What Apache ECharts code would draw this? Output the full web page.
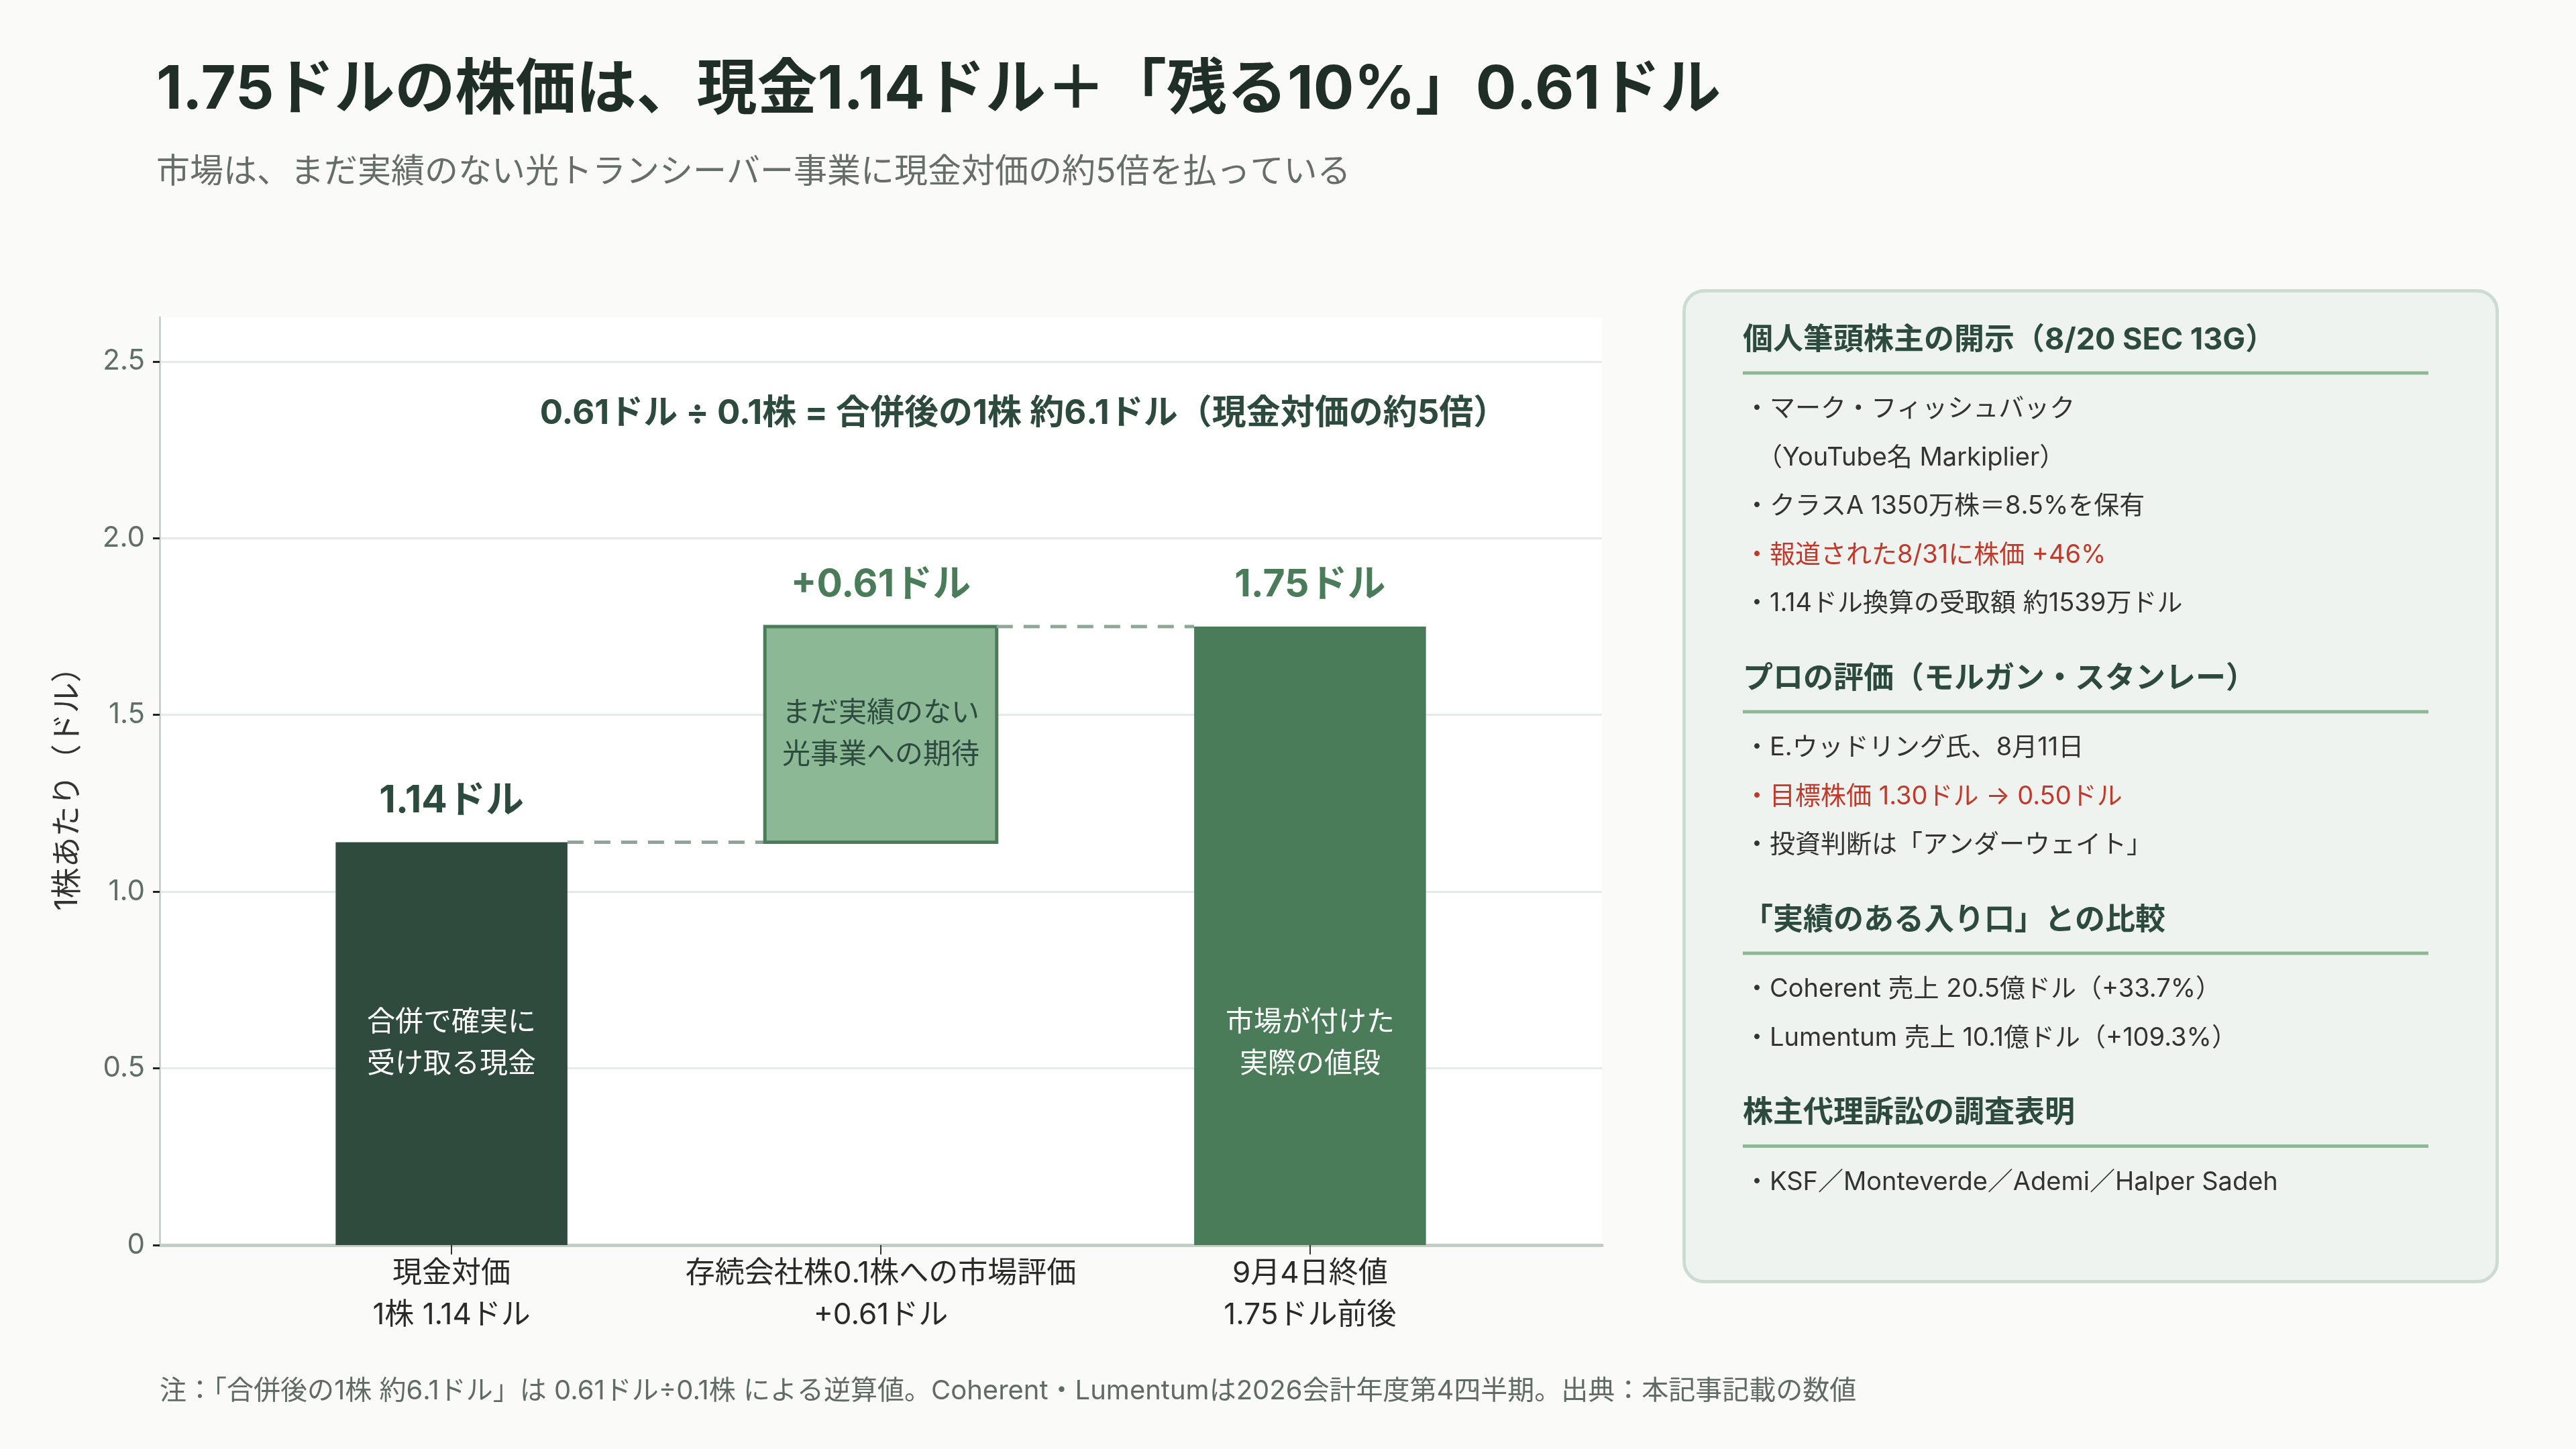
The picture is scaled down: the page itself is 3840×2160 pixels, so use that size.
<!DOCTYPE html>
<html>
<head>
<meta charset="utf-8">
<style>
  html, body { margin: 0; padding: 0; background: #fafaf9; }
  #chart { width: 3840px; height: 2160px; }
</style>
<script src="https://cdn.jsdelivr.net/npm/echarts@6/dist/echarts.min.js"></script>
</head>
<body>
<div id="chart"></div>
<script>
var FONT = 'Inter, "Noto Sans CJK JP", sans-serif';

// waterfall steps: cash -> premium -> close
var CATEGORIES = ['現金対価\n1株 1.14ドル', '存続会社株0.1株への市場評価\n+0.61ドル', '9月4日終値\n1.75ドル前後'];
var STEP_VALUES = [1.14, 0.61, 1.75];
var STEP_KINDS = ['total', 'delta', 'total'];
var TOP_LABELS = ['1.14ドル', '+0.61ドル', '1.75ドル'];
var INNER_LABELS = ['合併で確実に\n受け取る現金', 'まだ実績のない\n光事業への期待', '市場が付けた\n実際の値段'];
var Y_MAX = 2.625;

var TITLE = '1.75ドルの株価は、現金1.14ドル＋「残る10%」0.61ドル';
var SUBTITLE = '市場は、まだ実績のない光トランシーバー事業に現金対価の約5倍を払っている';
var NOTE_IN_PLOT = '0.61ドル ÷ 0.1株 = 合併後の1株 約6.1ドル（現金対価の約5倍）';
var FOOTNOTE = '注：「合併後の1株 約6.1ドル」は 0.61ドル÷0.1株 による逆算値。Coherent・Lumentumは2026会計年度第4四半期。出典：本記事記載の数値';

var PANEL_SECTIONS = [
  {head: '個人筆頭株主の開示（8/20 SEC 13G）', items: [
    ['・マーク・フィッシュバック', false],
    ['　（YouTube名 Markiplier）', false],
    ['・クラスA 1350万株＝8.5%を保有', false],
    ['・報道された8/31に株価 +46%', true],
    ['・1.14ドル換算の受取額 約1539万ドル', false]
  ]},
  {head: 'プロの評価（モルガン・スタンレー）', items: [
    ['・E.ウッドリング氏、8月11日', false],
    ['・目標株価 1.30ドル → 0.50ドル', true],
    ['・投資判断は「アンダーウェイト」', false]
  ]},
  {head: '「実績のある入り口」との比較', items: [
    ['・Coherent 売上 20.5億ドル（+33.7%）', false],
    ['・Lumentum 売上 10.1億ドル（+109.3%）', false]
  ]},
  {head: '株主代理訴訟の調査表明', items: [
    ['・KSF／Monteverde／Ademi／Halper Sadeh', false]
  ]}
];

var COLORS = {
  total0: '#2e4b3e',
  delta: '#8cb896',
  deltaBorder: '#4a7c59',
  total: '#4a7c59',
  dark: '#2d4a3e',
  connector: '#8fa697'
};

// build floating bar extents from the step values
var bars = [];
var running = 0;
STEP_VALUES.forEach(function (v, i) {
  var lo, hi;
  if (STEP_KINDS[i] === 'total') {
    lo = 0; hi = v;
  } else {
    lo = running; hi = running + v;
  }
  running = hi;
  bars.push([i, lo, hi]);
});

var BAR_W = 0.54; // in category units

function renderBar(params, api) {
  var i = api.value(0), lo = api.value(1), hi = api.value(2);
  var pLo = api.coord([i, lo]);
  var pHi = api.coord([i, hi]);
  var w = api.size([BAR_W, 0])[0];
  var isDelta = STEP_KINDS[i] === 'delta';
  var fill = isDelta ? COLORS.delta : (i === 0 ? COLORS.total0 : COLORS.total);
  var children = [{
    type: 'rect',
    shape: {x: pHi[0] - w / 2, y: pHi[1], width: w, height: pLo[1] - pHi[1]},
    style: {fill: fill, stroke: isDelta ? COLORS.deltaBorder : null, lineWidth: isDelta ? 5 : 0}
  }];
  // value label above bar
  children.push({
    type: 'text',
    x: pHi[0], y: pHi[1] - 62,
    style: {
      text: TOP_LABELS[i], align: 'center', verticalAlign: 'middle',
      fontSize: 57, fontWeight: 'bold', fontFamily: FONT,
      fill: i === 0 ? COLORS.dark : COLORS.total
    }
  });
  // text inside the bar
  var mid = lo === 0 ? STEP_VALUES[0] / 2 : (lo + hi) / 2;
  var pMid = api.coord([i, mid]);
  children.push({
    type: 'text',
    x: pMid[0], y: pMid[1],
    style: {
      text: INNER_LABELS[i], align: 'center', verticalAlign: 'middle',
      fontSize: 42, lineHeight: 62, fontFamily: FONT,
      fill: isDelta ? COLORS.dark : '#ffffff'
    }
  });
  // dashed connector to the next bar
  if (i < bars.length - 1) {
    var pNext = api.coord([i + 1, hi]);
    children.push({
      type: 'line',
      shape: {x1: pHi[0] + w / 2, y1: pHi[1], x2: pNext[0] - w / 2, y2: pNext[1]},
      style: {stroke: COLORS.connector, lineWidth: 5, lineDash: [24, 16]}
    });
  }
  return {type: 'group', children: children};
}

// right-hand info panel
var graphics = [];
var PX = 2508, PY = 431, PW = 1212, PH = 1477;
graphics.push({
  type: 'rect', left: PX, top: PY, z: 1,
  shape: {width: PW, height: PH, r: 30},
  style: {fill: '#eef3ef', stroke: '#cddcd0', lineWidth: 5}
});
var y = 507;
PANEL_SECTIONS.forEach(function (sec, si) {
  if (si > 0) y += 112;
  graphics.push({
    type: 'text', x: 2598, y: y, z: 2,
    style: {text: sec.head, fontSize: 45, fontWeight: 'bold', fontFamily: FONT,
      fill: COLORS.dark, verticalAlign: 'middle', align: 'left'}
  });
  graphics.push({
    type: 'line', z: 2,
    shape: {x1: 2598, y1: y + 49, x2: 3620, y2: y + 49},
    style: {stroke: '#8cb896', lineWidth: 5}
  });
  y += 49 + 54;
  sec.items.forEach(function (it, k) {
    if (k > 0) y += 72.5;
    graphics.push({
      type: 'text', x: 2600, y: y, z: 2,
      style: {text: it[0], fontSize: 38, fontFamily: FONT,
        fill: it[1] ? '#c0392b' : '#333333', verticalAlign: 'middle', align: 'left'}
    });
  });
});
graphics.push({
  type: 'text', x: 1526, y: 617, z: 5,
  style: {text: NOTE_IN_PLOT, fontSize: 51, fontWeight: 'bold', fontFamily: FONT,
    fill: COLORS.dark, align: 'center', verticalAlign: 'middle'}
});
graphics.push({
  type: 'text', x: 238, y: 2074,
  style: {text: FOOTNOTE, fontSize: 40, fontFamily: FONT,
    fill: '#5f6b63', align: 'left', verticalAlign: 'middle'}
});

var chart = echarts.init(document.getElementById('chart'));
chart.setOption({
  backgroundColor: '#fafaf9',
  animation: false,
  textStyle: {fontFamily: FONT},
  title: [{
    text: TITLE, left: 233, top: 90, padding: 0,
    textStyle: {fontSize: 90, fontWeight: 'bold', color: '#1f2f27', fontFamily: FONT, lineHeight: 90}
  }, {
    text: SUBTITLE, left: 233, top: 232, padding: 0,
    textStyle: {fontSize: 50, fontWeight: 'normal', color: '#666e68', fontFamily: FONT, lineHeight: 50}
  }],
  grid: {
    left: 238, right: 1452, top: 473, bottom: 304,
    show: true, backgroundColor: '#ffffff', borderWidth: 0
  },
  xAxis: {
    type: 'value', min: -0.68, max: 2.68,
    splitLine: {show: false},
    axisLine: {show: true, lineStyle: {color: '#c2cdc4', width: 5}},
    axisTick: {show: true, customValues: [0, 1, 2], length: 14, lineStyle: {color: '#333333', width: 2}},
    axisLabel: {
      customValues: [0, 1, 2],
      formatter: function (v) { return CATEGORIES[Math.round(v)]; },
      fontSize: 44, lineHeight: 62, color: '#2a2a2a', margin: 12, fontFamily: FONT
    }
  },
  yAxis: {
    type: 'value', min: 0, max: Y_MAX, interval: 0.5,
    name: '1株あたり（ドル）', nameLocation: 'middle', nameRotate: 90, nameGap: 114,
    nameTextStyle: {fontSize: 46, color: '#333333', fontFamily: FONT},
    axisLine: {show: true, onZero: false, lineStyle: {color: '#c5d3c8', width: 3}},
    axisTick: {show: true, length: 10, lineStyle: {color: '#222222', width: 3}},
    axisLabel: {
      fontSize: 42, color: '#5f6f64', margin: 22, fontFamily: FONT,
      showMaxLabel: false,
      formatter: function (v) { return v === 0 ? '0' : v.toFixed(1); }
    },
    splitLine: {show: true, showMaxLine: false, lineStyle: {color: '#e5ebe7', width: 3}}
  },
  series: [{
    type: 'custom',
    renderItem: renderBar,
    encode: {x: 0, y: [1, 2]},
    data: bars,
    z: 3
  }],
  graphic: graphics
});
</script>
</body>
</html>
